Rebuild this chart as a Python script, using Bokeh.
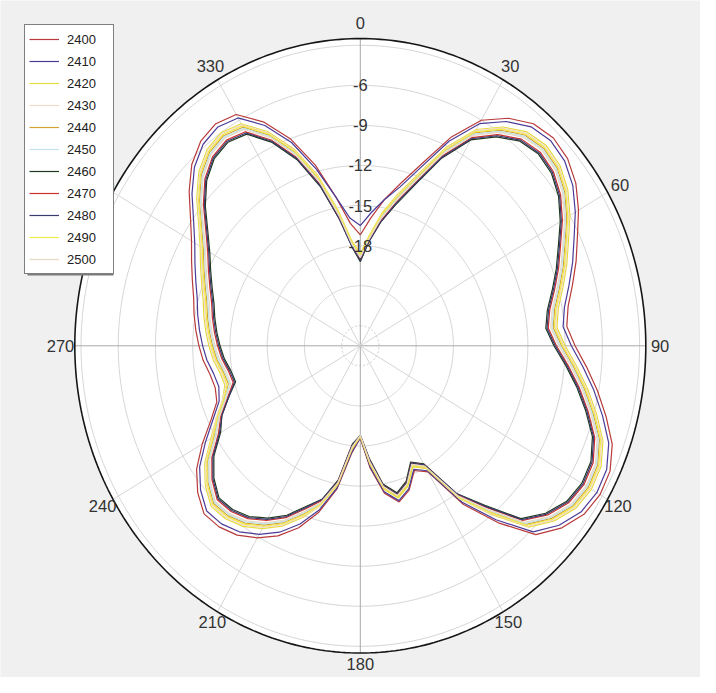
import math
from bokeh.plotting import figure
from bokeh.models import Range1d, Legend, LegendItem
from bokeh.embed import file_html
from bokeh.resources import INLINE
from bokeh.core.properties import value

# ---------------- data ----------------
angles = [0, 5, 10, 15, 20, 25, 30, 35, 40, 45, 50, 55, 60, 65, 70, 75, 80, 85,
          90, 95, 100, 105, 110, 115, 120, 125, 130, 135, 140, 145, 150, 155, 160, 165, 170, 175,
          180, 185, 190, 195, 200, 205, 210, 215, 220, 225, 230, 235, 240, 245, 250, 255, 260, 265,
          270, 275, 280, 285, 290, 295, 300, 305, 310, 315, 320, 325, 330, 335, 340, 345, 350, 355]

freqs = ["2400", "2410", "2420", "2430", "2440", "2450", "2460", "2470", "2480", "2490", "2500"]

s2400 = [-17.2, -15.9, -14.4, -12.9, -11.0, -8.3, -6.0, -4.7, -3.8, -3.5, -3.7, -4.3, -5.2, -6.2, -7.0, -7.8, -8.5, -8.8,
         -8.2, -7.2, -6.1, -5.0, -3.9, -3.3, -3.2, -3.5, -4.3, -5.5, -8.2, -11.0, -14.6, -15.2, -14.0, -13.4, -14.3, -16.3,
         -18.6, -17.4, -14.6, -12.6, -11.0, -9.8, -8.9, -8.2, -7.8, -7.7, -8.4, -9.4, -10.8, -12.2, -13.2, -13.4, -13.2, -12.8,
         -12.5, -12.2, -11.9, -11.6, -11.1, -10.5, -9.8, -8.8, -7.5, -6.3, -5.5, -5.2, -5.5, -7.0, -9.0, -11.5, -14.2, -16.3]
s2410 = [-16.5, -15.5, -14.4, -13.2, -11.3, -8.6, -6.3, -5.0, -4.1, -3.8, -4.0, -4.6, -5.5, -6.5, -7.3, -8.1, -8.8, -9.1,
         -8.5, -7.5, -6.4, -5.3, -4.2, -3.6, -3.5, -3.8, -4.6, -5.8, -8.5, -11.2, -14.7, -15.3, -14.1, -13.5, -14.4, -16.4,
         -18.6, -17.5, -14.7, -12.8, -11.3, -10.1, -9.2, -8.5, -8.1, -8.0, -8.7, -9.7, -11.1, -12.4, -13.4, -13.7, -13.5, -13.1,
         -12.8, -12.5, -12.2, -11.9, -11.4, -10.8, -10.1, -9.1, -7.8, -6.6, -5.8, -5.5, -5.8, -7.3, -9.3, -11.8, -14.2, -15.9]
s2420 = [-18.6, -17.2, -15.4, -13.7, -11.8, -9.1, -6.8, -5.5, -4.6, -4.3, -4.5, -5.1, -6.0, -7.0, -7.8, -8.6, -9.3, -9.6,
         -9.0, -8.0, -6.9, -5.8, -4.7, -4.1, -4.0, -4.3, -5.1, -6.3, -9.0, -11.5, -14.9, -15.5, -14.3, -13.7, -14.6, -16.6,
         -18.7, -17.7, -14.9, -13.1, -11.8, -10.6, -9.7, -9.0, -8.6, -8.5, -9.2, -10.2, -11.6, -12.7, -13.7, -14.2, -14.0, -13.6,
         -13.3, -13.0, -12.7, -12.4, -11.9, -11.3, -10.6, -9.6, -8.3, -7.1, -6.3, -6.0, -6.3, -7.8, -9.8, -12.3, -15.2, -17.6]
s2430 = [-18.7, -17.3, -15.5, -13.8, -11.9, -9.2, -6.9, -5.6, -4.7, -4.4, -4.6, -5.2, -6.1, -7.1, -7.9, -8.7, -9.4, -9.7,
         -9.1, -8.1, -7.0, -5.9, -4.8, -4.2, -4.1, -4.4, -5.2, -6.4, -9.1, -11.5, -15.0, -15.6, -14.4, -13.8, -14.7, -16.7,
         -18.7, -17.8, -15.0, -13.1, -11.9, -10.7, -9.8, -9.1, -8.7, -8.6, -9.3, -10.3, -11.7, -12.7, -13.7, -14.3, -14.1, -13.7,
         -13.4, -13.1, -12.8, -12.5, -12.0, -11.4, -10.7, -9.7, -8.4, -7.2, -6.4, -6.1, -6.4, -7.9, -9.9, -12.4, -15.3, -17.7]
s2440 = [-18.8, -17.4, -15.7, -14.0, -12.1, -9.4, -7.1, -5.8, -4.9, -4.6, -4.8, -5.4, -6.3, -7.3, -8.1, -8.9, -9.6, -9.9,
         -9.3, -8.3, -7.2, -6.1, -5.0, -4.4, -4.3, -4.6, -5.4, -6.6, -9.3, -11.7, -15.0, -15.6, -14.4, -13.8, -14.7, -16.7,
         -18.7, -17.8, -15.0, -13.3, -12.1, -10.9, -10.0, -9.3, -8.9, -8.8, -9.5, -10.5, -11.9, -12.9, -13.9, -14.5, -14.3, -13.9,
         -13.6, -13.3, -13.0, -12.7, -12.2, -11.6, -10.9, -9.9, -8.6, -7.4, -6.6, -6.3, -6.6, -8.1, -10.1, -12.6, -15.5, -17.8]
s2450 = [-18.8, -17.4, -15.7, -14.1, -12.2, -9.5, -7.2, -5.9, -5.0, -4.7, -4.9, -5.5, -6.4, -7.4, -8.2, -9.0, -9.7, -10.0,
         -9.4, -8.4, -7.3, -6.2, -5.1, -4.5, -4.4, -4.7, -5.5, -6.7, -9.4, -11.7, -15.1, -15.7, -14.5, -13.9, -14.8, -16.8,
         -18.8, -17.9, -15.1, -13.3, -12.2, -11.0, -10.1, -9.4, -9.0, -8.9, -9.6, -10.6, -12.0, -12.9, -13.9, -14.6, -14.4, -14.0,
         -13.7, -13.4, -13.1, -12.8, -12.3, -11.7, -11.0, -10.0, -8.7, -7.5, -6.7, -6.4, -6.7, -8.2, -10.2, -12.7, -15.5, -17.8]
s2460 = [-19.2, -17.7, -16.1, -14.6, -12.7, -10.0, -7.7, -6.4, -5.5, -5.2, -5.4, -6.0, -6.9, -7.9, -8.7, -9.5, -10.2, -10.5,
         -9.9, -8.9, -7.8, -6.7, -5.6, -5.0, -4.9, -5.2, -6.0, -7.2, -9.9, -12.0, -15.3, -15.9, -14.7, -14.1, -15.0, -17.0,
         -18.8, -18.1, -15.3, -13.6, -12.7, -11.5, -10.6, -9.9, -9.5, -9.4, -10.1, -11.1, -12.5, -13.2, -14.2, -15.1, -14.9, -14.5,
         -14.2, -13.9, -13.6, -13.3, -12.8, -12.2, -11.5, -10.5, -9.2, -8.0, -7.2, -6.9, -7.2, -8.7, -10.7, -13.2, -15.9, -18.1]
s2470 = [-19.0, -17.6, -16.0, -14.4, -12.5, -9.8, -7.5, -6.2, -5.3, -5.0, -5.2, -5.8, -6.7, -7.7, -8.5, -9.3, -10.0, -10.3,
         -9.7, -8.7, -7.6, -6.5, -5.4, -4.8, -4.7, -5.0, -5.8, -7.0, -9.7, -11.9, -15.2, -15.8, -14.6, -14.0, -14.9, -16.9,
         -18.7, -18.0, -15.2, -13.5, -12.5, -11.3, -10.4, -9.7, -9.3, -9.2, -9.9, -10.9, -12.3, -13.1, -14.1, -14.9, -14.7, -14.3,
         -14.0, -13.7, -13.4, -13.1, -12.6, -12.0, -11.3, -10.3, -9.0, -7.8, -7.0, -6.7, -7.0, -8.5, -10.5, -13.0, -15.8, -18.0]
s2480 = [-19.1, -17.7, -16.1, -14.5, -12.6, -9.9, -7.6, -6.3, -5.4, -5.1, -5.3, -5.9, -6.8, -7.8, -8.6, -9.4, -10.1, -10.4,
         -9.8, -8.8, -7.7, -6.6, -5.5, -4.9, -4.8, -5.1, -5.9, -7.1, -9.8, -12.0, -15.2, -15.8, -14.6, -14.0, -14.9, -16.9,
         -18.8, -18.0, -15.2, -13.6, -12.6, -11.4, -10.5, -9.8, -9.4, -9.3, -10.0, -11.0, -12.4, -13.2, -14.2, -15.0, -14.8, -14.4,
         -14.1, -13.8, -13.5, -13.2, -12.7, -12.1, -11.4, -10.4, -9.1, -7.9, -7.1, -6.8, -7.1, -8.6, -10.6, -13.1, -15.9, -18.1]
s2490 = [-18.7, -17.3, -15.5, -13.9, -12.0, -9.3, -7.0, -5.7, -4.8, -4.5, -4.7, -5.3, -6.2, -7.2, -8.0, -8.8, -9.5, -9.8,
         -9.2, -8.2, -7.1, -6.0, -4.9, -4.3, -4.2, -4.5, -5.3, -6.5, -9.2, -11.6, -15.0, -15.6, -14.4, -13.8, -14.7, -16.7,
         -18.7, -17.8, -15.0, -13.2, -12.0, -10.8, -9.9, -9.2, -8.8, -8.7, -9.4, -10.4, -11.8, -12.8, -13.8, -14.4, -14.2, -13.8,
         -13.5, -13.2, -12.9, -12.6, -12.1, -11.5, -10.8, -9.8, -8.5, -7.3, -6.5, -6.2, -6.5, -8.0, -10.0, -12.5, -15.3, -17.7]
s2500 = [-18.9, -17.5, -15.8, -14.2, -12.3, -9.6, -7.3, -6.0, -5.1, -4.8, -5.0, -5.6, -6.5, -7.5, -8.3, -9.1, -9.8, -10.1,
         -9.5, -8.5, -7.4, -6.3, -5.2, -4.6, -4.5, -4.8, -5.6, -6.8, -9.5, -11.8, -15.1, -15.7, -14.5, -13.9, -14.8, -16.8,
         -18.8, -17.9, -15.1, -13.4, -12.3, -11.1, -10.2, -9.5, -9.1, -9.0, -9.7, -10.7, -12.1, -13.0, -14.0, -14.7, -14.5, -14.1,
         -13.8, -13.5, -13.2, -12.9, -12.4, -11.8, -11.1, -10.1, -8.8, -7.6, -6.8, -6.5, -6.8, -8.3, -10.3, -12.8, -15.6, -17.9]

series = [s2400, s2410, s2420, s2430, s2440, s2450, s2460, s2470, s2480, s2490, s2500]

colors = ["#b83a3a", "#4a3c98", "#e6dc3c", "#f0d8cc", "#d4a234", "#bfe4ee",
          "#1f3a1f", "#cc2f2f", "#3a3a6e", "#f2ea46", "#e8d8c6"]

ring_db = [-3, -6, -9, -12, -15, -18, -21]
inner_ring_db = [-24]
ring_label_db = [-6, -9, -12, -15, -18]
spoke_angles = [0, 30, 60, 90, 120, 150, 180, 210, 240, 270, 300, 330]
spoke_labels = ["0", "30", "60", "90", "120", "150", "180", "210", "240", "270", "300", "330"]
DB_MIN = -25.5   # value at the centre
DB_MAX = -2.5    # value at the outer border

# ---------------- layout ----------------
W, H = 700, 677
CX, CY = 359.8, 345.3      # centre of the polar area in figure pixels
RX, RY = 285.5, 307.2      # outer radius in pixels (horizontal / vertical)
R = DB_MAX - DB_MIN

x0 = -CX / RX * R
x1 = (W - CX) / RX * R
y1 = CY / RY * R
y0 = -(H - CY) / RY * R

p = figure(width=W, height=H, x_range=Range1d(x0, x1), y_range=Range1d(y0, y1),
           x_axis_type=None, y_axis_type=None, toolbar_location=None,
           output_backend="svg", min_border=0, outline_line_color=None,
           background_fill_color="#f0f0f0", border_fill_color="#f0f0f0")
p.xgrid.visible = False
p.ygrid.visible = False


def circ(r, n=360):
    ts = [2 * math.pi * i / n for i in range(n + 1)]
    return [r * math.sin(t) for t in ts], [r * math.cos(t) for t in ts]


# white plot disc
cx_, cy_ = circ(R)
p.patch(cx_, cy_, fill_color="white", line_color=None)

# rings
rxs, rys = [], []
for d in ring_db:
    a, b = circ(d - DB_MIN)
    rxs.append(a)
    rys.append(b)
p.multi_line(rxs, rys, line_color="#d6d6d6", line_width=1)
for d in inner_ring_db:
    a, b = circ(d - DB_MIN)
    p.line(a, b, line_color="#c8c8c8", line_width=1, line_dash="2 2")

# spokes
for ang in spoke_angles:
    t = math.radians(ang)
    main = ang % 90 == 0
    p.segment(x0=[0], y0=[0], x1=[R * math.sin(t)], y1=[R * math.cos(t)],
              line_color="#a8a8a8" if main else "#d6d6d6", line_width=1)

# outer border
p.line(cx_, cy_, line_color="#161616", line_width=1.6)

# data curves
items = []
for name, vals, col in zip(freqs, series, colors):
    xs, ys = [], []
    for a, v in zip(angles + [angles[0]], vals + [vals[0]]):
        r = max(v - DB_MIN, 0)
        t = math.radians(a)
        xs.append(r * math.sin(t))
        ys.append(r * math.cos(t))
    rend = p.line(xs, ys, line_color=col, line_width=1.2)
    items.append(LegendItem(label=name, renderers=[rend]))

# dB labels along the 0 deg spoke
p.text(x=[0] * len(ring_label_db), y=[d - DB_MIN for d in ring_label_db],
       text=[str(d) for d in ring_label_db], text_font=value("Liberation Sans"),
       text_font_size="16.5px", text_align="center", text_baseline="middle",
       text_color="#333333")

# angle labels (slightly closer to the border at the bottom)
lab_x, lab_y = [], []
for a in spoke_angles:
    t = math.radians(a)
    lr = R + 1.15 - 0.35 * max(0.0, -math.cos(t))
    lab_x.append(lr * math.sin(t))
    lab_y.append(lr * math.cos(t))
p.text(x=lab_x, y=lab_y, text=spoke_labels, text_font=value("Liberation Sans"),
       text_font_size="16.5px", text_align="center", text_baseline="middle",
       text_color="#333333")

# legend shadow (pixel box converted to data units)
def px2x(px):
    return x0 + px / W * (x1 - x0)


def py2y(py):
    return y1 - py / H * (y1 - y0)


p.quad(left=[px2x(27)], right=[px2x(113)], top=[py2y(27)], bottom=[py2y(275)],
       fill_color="#7a7a7a", line_color=None)

legend = Legend(items=items, location="top_left", margin=24, padding=4, spacing=2,
                glyph_width=30, glyph_height=20, label_height=20, label_width=42,
                label_standoff=8, label_text_font="Liberation Sans",
                label_text_font_size="13px", label_text_color="#222222",
                border_line_color="black", border_line_width=1,
                background_fill_color="white", background_fill_alpha=1.0)
p.add_layout(legend)

html = file_html(p, INLINE)
html = html.replace("<body>", '<body style="background-color:#f0f0f0;">', 1)
open("out.html", "w").write(html)
